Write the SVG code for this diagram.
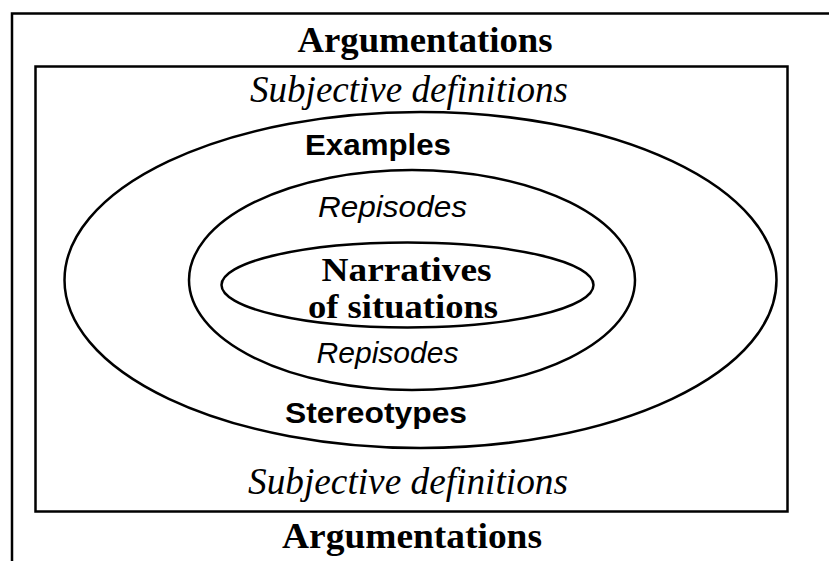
<svg xmlns="http://www.w3.org/2000/svg" width="829" height="561" viewBox="0 0 829 561">
<style>
.frame{fill:none;stroke:#000;stroke-width:2.5}
.ell{fill:none;stroke:#000;stroke-width:2.5}
.tb{font-family:"Liberation Serif","Times New Roman",serif;font-weight:bold;fill:#000;text-anchor:middle}
.ti{font-family:"Liberation Serif","Times New Roman",serif;font-style:italic;fill:#000;text-anchor:middle}
.sb{font-family:"Liberation Sans",Arial,sans-serif;font-weight:bold;fill:#000;text-anchor:middle}
.si{font-family:"Liberation Sans",Arial,sans-serif;font-style:italic;fill:#000;text-anchor:middle}
</style>
<rect width="829" height="561" fill="#fff"/>
<g id="outer-frame">
<path class="frame" d="M12 561 V13.5 H829"/>
<text class="tb" x="425" y="52" font-size="36" textLength="255" lengthAdjust="spacingAndGlyphs">Argumentations</text>
<text class="tb" x="412" y="548" font-size="36" textLength="260" lengthAdjust="spacingAndGlyphs">Argumentations</text>
</g>
<g id="inner-frame">
<rect class="frame" x="35.5" y="66.5" width="752" height="445"/>
<text class="ti" x="409" y="101.5" font-size="38" textLength="318" lengthAdjust="spacingAndGlyphs">Subjective definitions</text>
<text class="ti" x="408" y="494" font-size="38" textLength="320" lengthAdjust="spacingAndGlyphs">Subjective definitions</text>
</g>
<g id="outer-ellipse">
<ellipse class="ell" cx="420.5" cy="280" rx="356" ry="168"/>
<text class="sb" x="378" y="155" font-size="29" textLength="146" lengthAdjust="spacingAndGlyphs">Examples</text>
<text class="sb" x="376" y="423" font-size="29" textLength="182" lengthAdjust="spacingAndGlyphs">Stereotypes</text>
</g>
<g id="middle-ellipse">
<ellipse class="ell" cx="412" cy="280" rx="223" ry="110"/>
<text class="si" x="392.5" y="216.5" font-size="29" textLength="149" lengthAdjust="spacingAndGlyphs">Repisodes</text>
<text class="si" x="387.5" y="362.5" font-size="29" textLength="142" lengthAdjust="spacingAndGlyphs">Repisodes</text>
</g>
<g id="inner-ellipse">
<ellipse class="ell" cx="407.5" cy="285" rx="186" ry="42.5"/>
<text class="tb" x="406.5" y="281" font-size="34" textLength="170" lengthAdjust="spacingAndGlyphs">Narratives</text>
<text class="tb" x="403" y="318" font-size="34" textLength="190" lengthAdjust="spacingAndGlyphs">of situations</text>
</g>
<g id="connectors"/>
</svg>
